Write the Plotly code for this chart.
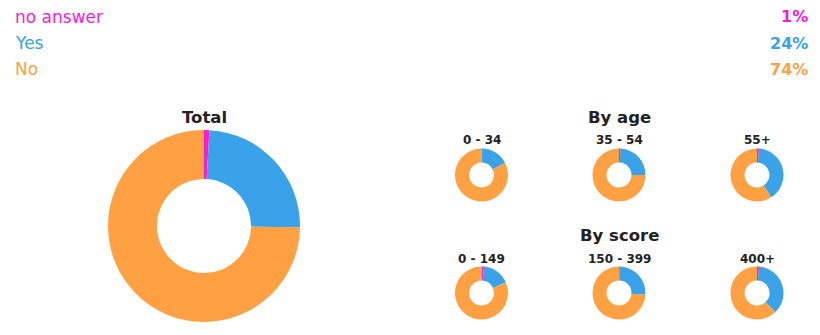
import plotly.graph_objects as go

W, H = 820, 335

categories = ["no answer", "Yes", "No"]
colors = ["#FF1ACF", "#39A2E9", "#FFA042"]
header_pct = ["1%", "24%", "74%"]

total_values = [0.9, 24.3, 74.8]

age_groups = ["0 - 34", "35 - 54", "55+"]
age_values = [
    [0.3, 17.2, 82.5],
    [1.0, 24.0, 75.0],
    [1.2, 39.8, 59.0],
]

score_groups = ["0 - 149", "150 - 399", "400+"]
score_values = [
    [1.5, 17.0, 81.5],
    [0.5, 25.5, 74.0],
    [1.2, 36.8, 62.0],
]

FONT = "DejaVu Sans"
BOLD_FONT = "DejaVu Sans"

fig = go.Figure()


def dom(cx, cy, r):
    return dict(x=[(cx - r) / W, (cx + r) / W],
                y=[(H - cy - r) / H, (H - cy + r) / H])


def add_donut(vals, cx, cy, r, hole):
    fig.add_trace(go.Pie(
        labels=categories, values=vals, sort=False, direction="clockwise",
        rotation=0, hole=hole, textinfo="none", showlegend=False,
        marker=dict(colors=colors, line=dict(width=0)),
        domain=dom(cx, cy, r),
    ))


add_donut(total_values, 204, 226, 96, 0.49)

cols_x = [481.5, 619, 757]
for i, v in enumerate(age_values):
    add_donut(v, cols_x[i], 175, 26.5, 0.47)
for i, v in enumerate(score_values):
    add_donut(v, cols_x[i], 293, 26.5, 0.47)

ann = []


def text(x, y, s, size, color="#222222", bold=False, xanchor="center"):
    ann.append(dict(
        x=x / W, y=1 - y / H, xref="paper", yref="paper", text=f"<b>{s}</b>" if bold else s,
        showarrow=False, xanchor=xanchor, yanchor="middle",
        font=dict(family=BOLD_FONT if bold else FONT, size=size, color=color),
    ))


row_y = [17, 43, 69]
for i, c in enumerate(categories):
    text(13, row_y[i], c, 17, colors[i], xanchor="left")
    text(810, row_y[i], header_pct[i], 16, colors[i], bold=True, xanchor="right")

text(204, 118, "Total", 16.5, bold=True)
text(619, 118, "By age", 16.5, bold=True)
text(619, 236, "By score", 16.5, bold=True)
for i, g in enumerate(age_groups):
    text(cols_x[i], 140, g, 12, bold=True)
for i, g in enumerate(score_groups):
    text(cols_x[i], 259, g, 12, bold=True)

fig.update_layout(
    width=W, height=H, margin=dict(l=0, r=0, t=0, b=0),
    paper_bgcolor="white", plot_bgcolor="white",
    annotations=ann,
)

fig.write_html("out.html")
